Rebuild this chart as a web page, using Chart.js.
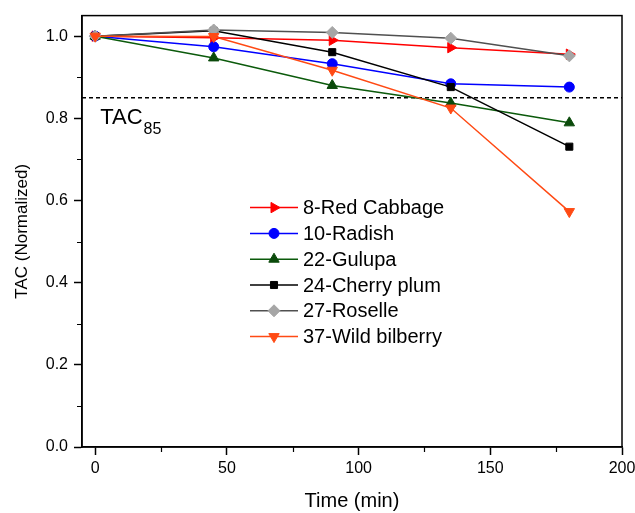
<!DOCTYPE html>
<html>
<head>
<meta charset="utf-8">
<script src="https://cdn.jsdelivr.net/npm/chart.js@4/dist/chart.umd.min.js"></script>
<style>
  html, body { margin: 0; padding: 0; background: #fff; }
  #grafico { display: block; }
</style>
</head>
<body>
<canvas id="grafico" width="635" height="513"></canvas>
<script>
/* TAC normalizado vs tempo: 6 extratos, linha tracejada em TAC85 */
var timeMin = [0, 45, 90, 135, 180];
var redCabbage = [1.0, 0.996, 0.990, 0.972, 0.956];
var radish = [1.0, 0.974, 0.933, 0.884, 0.876];
var gulupa = [1.0, 0.947, 0.880, 0.837, 0.789];
var cherryPlum = [1.0, 1.013, 0.961, 0.876, 0.731];
var roselle = [1.0, 1.015, 1.009, 0.995, 0.952];
var wildBilberry = [1.0, 0.999, 0.917, 0.825, 0.573];
var seriesNames = ["8-Red Cabbage", "10-Radish", "22-Gulupa", "24-Cherry plum", "27-Roselle", "37-Wild bilberry"];
var tacThreshold = 0.85;
var xTicks = [0, 50, 100, 150, 200];
var xMinor = [25, 75, 125, 175];
var yTicks = [0, 0.2, 0.4, 0.6, 0.8, 1.0];
var yMinor = [0.1, 0.3, 0.5, 0.7, 0.9];

(function () {
    "use strict";

    var FONT = "Arial, 'Liberation Sans', sans-serif";

    function pts(vals) {
        return vals.map(function (v, i) { return { x: timeMin[i], y: v }; });
    }

    // estilo de cada série (linha, marcador)
    var estilos = [
        { line: "#ff0000", fill: "#ff0000", style: "triangle", rot: 90, r: 6 },
        { line: "#0000ff", fill: "#0000ff", style: "circle", rot: 0, r: 5 },
        { line: "#0b5a0b", fill: "#0b4a0b", style: "triangle", rot: 0, r: 6 },
        { line: "#000000", fill: "#000000", style: "rect", rot: 0, r: 5 },
        { line: "#505050", fill: "#a6a6a6", style: "rectRot", rot: 0, r: 6 },
        { line: "#ff4a14", fill: "#ff4a14", style: "triangle", rot: 180, r: 6 }
    ];
    var valores = [redCabbage, radish, gulupa, cherryPlum, roselle, wildBilberry];

    var datasets = valores.map(function (vals, i) {
        var e = estilos[i];
        return {
            label: seriesNames[i],
            data: pts(vals),
            borderColor: e.line,
            backgroundColor: e.fill,
            borderWidth: 1.5,
            pointStyle: e.style,
            pointRotation: e.rot,
            pointRadius: e.r,
            pointHoverRadius: e.r,
            pointBackgroundColor: e.fill,
            pointBorderColor: e.fill,
            pointBorderWidth: 1,
            order: valores.length - i,
            tension: 0
        };
    });
    datasets.push({
        label: "TAC85",
        data: [{ x: -5, y: tacThreshold }, { x: 200, y: tacThreshold }],
        borderColor: "#000",
        borderWidth: 1.5,
        borderDash: [4, 3],
        pointRadius: 0,
        order: 20,
        isRef: true
    });

    var extras = {
        id: "extras",
        afterDraw: function (chart) {
            var ctx = chart.ctx, a = chart.chartArea;
            var xs = chart.scales.x, ys = chart.scales.y;
            ctx.save();
            // moldura
            ctx.strokeStyle = "#000";
            ctx.lineWidth = 1.5;
            ctx.strokeRect(a.left, a.top, a.right - a.left, a.bottom - a.top);
            // ticks menores
            ctx.beginPath();
            xMinor.forEach(function (v) {
                var px = Math.round(xs.getPixelForValue(v)) + 0.5;
                ctx.moveTo(px, a.bottom); ctx.lineTo(px, a.bottom + 5);
            });
            yMinor.forEach(function (v) {
                var py = Math.round(ys.getPixelForValue(v)) + 0.5;
                ctx.moveTo(a.left, py); ctx.lineTo(a.left - 5, py);
            });
            ctx.lineWidth = 1.2;
            ctx.stroke();

            // TAC85
            ctx.fillStyle = "#000";
            ctx.textBaseline = "alphabetic";
            var tx = xs.getPixelForValue(0) + 5, ty = ys.getPixelForValue(tacThreshold) + 26;
            ctx.font = "22px " + FONT;
            ctx.fillText("TAC", tx, ty);
            var w = ctx.measureText("TAC").width;
            ctx.font = "16px " + FONT;
            ctx.fillText("85", tx + w + 1, ty + 10);

            // legenda
            var lx = a.left + 168, ly = a.top + 192, passo = 25.8;
            ctx.font = "20px " + FONT;
            ctx.textBaseline = "middle";
            chart.data.datasets.forEach(function (ds, i) {
                if (ds.isRef) return;
                var y = ly + i * passo;
                ctx.strokeStyle = ds.borderColor;
                ctx.lineWidth = 1.5;
                ctx.beginPath(); ctx.moveTo(lx, y); ctx.lineTo(lx + 48, y); ctx.stroke();
                ctx.fillStyle = ds.pointBackgroundColor;
                ctx.strokeStyle = ds.pointBorderColor;
                ctx.lineWidth = 1;
                Chart.helpers.drawPoint(ctx, {
                    pointStyle: ds.pointStyle, rotation: ds.pointRotation,
                    radius: ds.pointRadius, borderWidth: 1
                }, lx + 24, y);
                ctx.fillStyle = "#000";
                ctx.fillText(ds.label, lx + 53, y + 1);
            });
            ctx.restore();
        }
    };

    new Chart(document.getElementById("grafico"), {
        type: "line",
        data: { datasets: datasets },
        options: {
            responsive: false,
            animation: false,
            events: [],
            layout: { padding: { top: 14, right: 13, left: 0, bottom: 0 } },
            plugins: { legend: { display: false }, tooltip: { enabled: false } },
            scales: {
                x: {
                    type: "linear",
                    min: -5, max: 200,
                    afterBuildTicks: function (s) { s.ticks = xTicks.map(function (v) { return { value: v }; }); },
                    afterFit: function (s) { s.height = 66; s.paddingRight = 0; },
                    ticks: { color: "#000", font: { size: 16, family: FONT }, padding: 4, maxRotation: 0 },
                    grid: { drawOnChartArea: false, tickLength: 8, color: "#000", tickColor: "#000", tickWidth: 1.5 },
                    border: { color: "#000", width: 1.5 },
                    title: { display: true, text: "Time (min)", color: "#000", font: { size: 20, family: FONT }, padding: { top: 0, bottom: 0 } }
                },
                y: {
                    type: "linear",
                    min: 0, max: 1.05,
                    afterBuildTicks: function (s) { s.ticks = yTicks.map(function (v) { return { value: v }; }); },
                    afterFit: function (s) { s.width = 82; },
                    ticks: {
                        color: "#000", font: { size: 16, family: FONT }, padding: 6,
                        callback: function (v) { return Number(v).toFixed(1); }
                    },
                    grid: { drawOnChartArea: false, tickLength: 8, color: "#000", tickColor: "#000", tickWidth: 1.5 },
                    border: { color: "#000", width: 1.5 },
                    title: { display: true, text: "TAC (Normalized)", color: "#000", font: { size: 17, family: FONT }, padding: { top: 12, bottom: 0 } }
                }
            }
        },
        plugins: [extras]
    });
})();
</script>
</body>
</html>
